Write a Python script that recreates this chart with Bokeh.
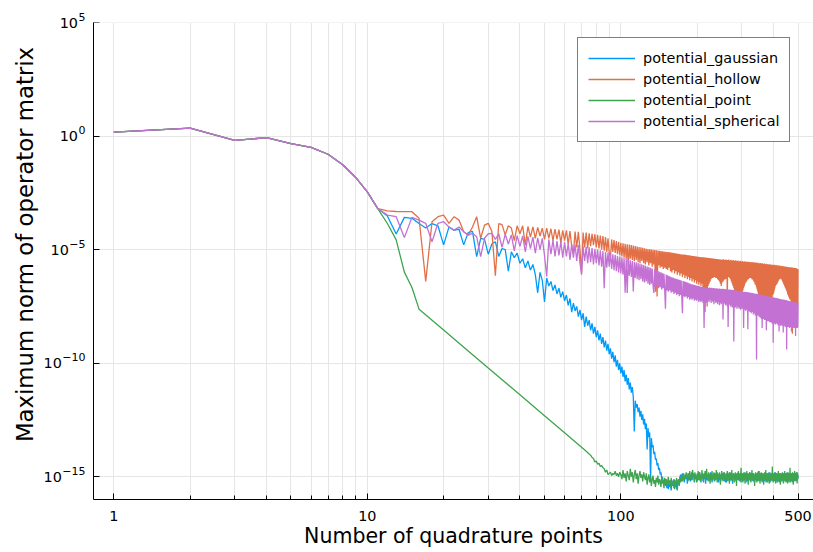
import numpy as np
from bokeh.plotting import figure
from bokeh.layouts import row
from bokeh.models import (Range1d, FixedTicker, CustomJSTickFormatter, Legend,
                          LegendItem, ColumnDataSource, BoxAnnotation)
from bokeh.core.properties import value
from bokeh.embed import file_html
from bokeh.resources import INLINE

# ---------------------------------------------------------------------------
# Data: log10 of the maximum operator-matrix norm versus number of quadrature
# points N.  All four potentials coincide for N = 1..11.
# ---------------------------------------------------------------------------
n_head = list(range(1, 12))
shared_head_log10 = [0.17, 0.35, -0.19, -0.07, -0.33, -0.50, -0.80, -1.26, -1.82, -2.46, -3.19]

# potential_gaussian, N = 12..500
gaussian_tail_log10 = [
    -3.52, -4.31, -3.58, -3.62, -3.85, -4.05, -3.85, -3.95, -4.79,                  # 12-20
    -4.00, -4.15, -4.10, -4.79, -4.25, -4.20, -5.31, -4.50, -4.55, -5.20,           # 21-30
    -4.75, -4.65, -5.30, -4.95, -5.00, -5.95, -5.10, -5.35, -5.15, -5.60,           # 31-40
    -5.40, -5.80, -5.50, -5.90, -5.65, -6.10, -6.90, -6.00, -6.35, -7.30,           # 41-50
    -6.25, -6.60, -6.40, -6.80, -6.55, -6.95, -6.70, -7.10, -6.85, -7.25,           # 51-60
    -7.00, -7.45, -7.15, -7.75, -7.35, -7.70, -7.50, -7.95, -7.65, -8.10,           # 61-70
    -7.80, -8.40, -7.95, -8.35, -8.10, -8.55, -8.25, -8.70, -8.40, -8.85,           # 71-80
    -8.55, -9.00, -8.70, -9.15, -8.85, -9.30, -9.00, -9.45, -9.15, -9.60,           # 81-90
    -9.35, -9.80, -9.50, -9.95, -9.65, -10.15, -9.85, -10.30, -10.00, -10.45,       # 91-100
    -10.15, -10.60, -10.30, -10.80, -10.50, -10.95, -10.65, -11.15, -10.85, -11.30, # 101-110
    -11.05, -11.50, -13.00, -11.65, -11.95, -11.80, -12.15, -11.95, -12.35, -12.10, # 111-120
    -12.50, -12.25, -12.70, -12.45, -12.90, -12.65, -13.80, -12.85, -13.25, -13.05, # 121-130
    -15.20, -13.30, -13.70, -13.60, -14.00, -13.90, -14.25, -14.20, -14.50, -14.40, # 131-140
    -14.70, -14.60, -14.90, -14.80, -15.10, -15.00, -15.20, -15.30, -15.10, -15.40, # 141-150
    -15.25, -15.50, -15.30, -15.55, -15.20, -15.45, -15.35, -15.60, -15.25, -15.40, # 151-160
    -15.15, -15.50, -15.30, -15.45, -15.20, -15.55, -15.25, -15.35, -15.10, -15.40, # 161-170
    -15.05, -14.90, -15.20, -15.00, -14.85, -15.15, -14.95, -15.25, -15.00, -14.90, # 171-180
    -15.10, -14.95, -15.30, -14.85, -15.05, -15.15, -14.90, -15.20, -15.00, -14.80,
    -15.15, -14.95, -15.05, -14.85, -15.25, -15.00, -14.90, -15.10, -14.95, -15.20,
    -14.90, -15.05, -14.80, -15.15, -15.00, -14.90, -15.25, -14.95, -15.05, -14.85,
    -15.20, -15.00, -14.90, -15.10, -14.95, -15.30, -14.85, -15.05, -15.15, -14.90,
    -15.05, -14.85, -15.20, -14.95, -15.00, -14.80, -15.15, -14.90, -15.25, -15.00,
    -14.95, -15.10, -14.85, -15.20, -15.00, -14.90, -15.15, -14.95, -15.05, -14.80,
    -15.10, -14.90, -15.25, -15.00, -14.85, -15.05, -14.95, -15.20, -14.90, -15.10,
    -14.85, -15.15, -14.95, -15.05, -14.80, -15.20, -15.00, -14.90, -15.10, -14.95,
    -15.25, -14.90, -15.05, -14.85, -15.15, -14.95, -15.00, -14.80, -15.20, -14.95,
    -15.05, -14.85, -15.15, -15.00, -14.90, -15.30, -14.95, -15.05, -14.85, -15.10,
    -14.90, -15.20, -15.00, -14.85, -15.10, -14.95, -15.15, -14.90, -15.05, -14.80,
    -15.15, -15.00, -14.90, -15.20, -14.95, -15.05, -14.85, -15.25, -15.00, -14.90,
    -15.10, -14.95, -15.20, -14.85, -15.05, -14.90, -15.15, -15.00, -14.80, -15.10,
    -14.95, -15.25, -14.90, -15.05, -14.85, -15.15, -15.00, -14.90, -15.20, -14.95,
    -15.05, -14.80, -15.10, -14.95, -15.20, -14.90, -15.00, -15.15, -14.85, -15.05,
    -14.90, -15.20, -15.00, -14.85, -15.10, -14.95, -15.25, -14.90, -15.05, -14.95,
    -15.15, -14.85, -15.00, -14.90, -15.20, -15.05, -14.80, -15.10, -14.95, -15.15,
    -14.75, -15.05, -14.90, -15.20, -15.00, -14.85, -15.15, -14.95, -15.05, -14.90,
    -15.25, -14.95, -15.05, -14.85, -15.15, -15.00, -14.90, -15.20, -14.95, -15.05,
    -14.85, -15.10, -14.95, -15.25, -14.90, -15.00, -15.15, -14.85, -15.05, -14.95,
    -15.20, -14.90, -15.05, -14.80, -15.15, -15.00, -14.95, -15.25, -14.90, -15.05,
    -14.85, -15.15, -15.00, -14.90, -15.20, -14.95, -15.05, -14.85, -15.10, -15.00,
    -14.90, -15.20, -14.95, -15.05, -14.80, -15.15, -15.00, -14.90, -15.25, -14.95,
    -15.05, -14.85, -15.10, -14.95, -15.20, -14.90, -15.00, -15.15, -14.85, -15.05,
    -14.95, -15.25, -14.90, -15.05, -15.00, -14.85, -15.15, -14.95, -15.10, -14.90,
    -15.20, -15.00, -14.85, -15.10, -14.95, -15.05, -14.90, -15.25, -15.00, -14.85,
    -15.15, -14.95, -15.05, -14.90, -15.20, -15.00, -14.85, -15.10, -14.95, -15.15,
    -14.90, -15.05, -14.80, -15.20, -15.00, -14.95, -15.15, -14.90, -15.05, -14.85,
    -15.25, -14.95, -15.05, -14.90, -15.10, -15.00, -14.85, -15.20, -14.95, -15.05,
    -14.90, -15.15, -15.00, -14.85, -15.10, -14.95, -15.25, -14.90, -15.05, -15.00,
    -14.85, -15.15, -14.95, -15.05, -14.90, -15.20, -15.00, -14.85, -15.10, -14.95,
    -15.05, -14.90, -15.20, -14.95, -15.00, -14.80, -15.15, -14.90, -15.05, -14.95, # 491-500
]

# potential_hollow, N = 12..500
hollow_tail_log10 = [
    -3.29, -3.32, -3.33, -3.33, -3.62, -6.40, -3.77, -3.55, -3.48,                  # 12-20
    -3.84, -3.55, -3.70, -4.21, -4.36, -4.00, -3.55, -4.50, -3.92, -3.84,           # 21-30
    -4.20, -6.15, -3.85, -3.90, -4.35, -3.95, -4.05, -4.60, -3.95, -4.30,           # 31-40
    -3.95, -4.80, -3.98, -4.45, -4.00, -4.50, -4.02, -4.40, -4.05, -4.55,           # 41-50
    -4.05, -4.50, -4.08, -4.60, -4.10, -4.55, -4.12, -4.70, -4.15, -4.60,           # 51-60
    -4.15, -4.75, -4.18, -4.85, -5.16, -4.20, -4.90, -4.22, -5.00, -6.05,           # 61-70
    -4.25, -4.90, -4.25, -4.95, -4.28, -4.85, -4.30, -4.80, -4.32, -4.90,           # 71-80
    -4.35, -4.95, -4.38, -5.00, -4.40, -5.05, -4.45, -5.10, -4.50, -5.15,           # 81-90
    -5.35, -4.55, -5.10, -4.58, -5.15, -4.62, -5.20, -4.65, -5.25, -4.70,           # 91-100
    -5.30, -4.72, -5.35, -4.74, -5.40, -4.76, -5.75, -4.78, -5.40, -4.80,           # 101-110
    -5.45, -4.82, -5.50, -4.84, -5.45, -4.86, -5.55, -4.88, -5.60, -4.90,           # 111-120
    -5.50, -4.92, -5.60, -4.94, -5.65, -4.96, -5.55, -4.97, -5.70, -4.98,           # 121-130
    -5.60, -5.00, -5.75, -5.01, -5.65, -5.02, -6.85, -5.03, -7.06, -5.04,           # 131-140
    -5.70, -5.05, -5.80, -5.06, -5.75, -5.07, -5.85, -5.08, -5.80, -5.09,           # 141-150
    -5.85, -5.10, -5.90, -5.11, -5.80, -5.12, -5.95, -5.13, -6.00, -5.14,           # 151-160
    -5.90, -5.15, -6.05, -5.16, -5.95, -5.17, -6.10, -5.18, -6.00, -5.19,           # 161-170
    -6.15, -5.20, -6.05, -5.21, -6.20, -5.22, -6.10, -5.22, -6.25, -5.23,           # 171-180
    -6.15, -5.24, -6.30, -5.25, -6.20, -5.25, -6.35, -5.26, -6.25, -5.27,           # 181-190
    -6.40, -5.28, -6.30, -5.28, -6.45, -5.29, -6.35, -5.30, -6.50, -5.30,           # 191-200
    -6.40, -5.31, -6.55, -5.32, -6.45, -5.32, -6.60, -5.33, -6.50, -5.34,           # 201-210
    -6.65, -5.34, -6.70, -5.35, -7.75, -5.35, -6.80, -5.36, -7.50, -5.36,           # 211-220
    -6.60, -5.37, -6.50, -5.37, -6.40, -5.38, -6.30, -5.38, -6.25, -5.39,           # 221-230
    -6.25, -5.39, -6.20, -5.40, -6.20, -5.40, -6.25, -5.41, -6.25, -5.41,           # 231-240
    -6.30, -5.42, -6.35, -5.42, -6.40, -5.43, -6.50, -5.43, -6.60, -5.44,           # 241-250
    -6.45, -5.44, -6.40, -5.42, -6.35, -5.46, -6.30, -5.45, -6.30, -5.43,           # 251-260
    -6.25, -5.47, -7.20, -5.46, -6.20, -5.44, -6.20, -5.48, -6.25, -5.47,           # 261-270
    -6.30, -5.45, -6.40, -5.49, -6.50, -5.48, -6.60, -5.46, -6.70, -5.50,           # 271-280
    -6.80, -5.49, -6.85, -5.47, -6.90, -5.51, -7.00, -5.50, -6.95, -5.48,           # 281-290
    -7.05, -5.52, -7.00, -5.51, -7.10, -5.49, -6.95, -5.53, -7.30, -5.52,           # 291-300
    -6.90, -5.50, -6.80, -5.54, -6.70, -5.53, -6.60, -5.51, -6.50, -5.55,           # 301-310
    -6.45, -5.54, -6.40, -5.52, -6.35, -5.56, -6.30, -5.55, -6.30, -5.53,           # 311-320
    -6.25, -5.57, -6.25, -5.56, -6.20, -5.54, -6.25, -5.58, -6.30, -5.57,           # 321-330
    -6.30, -5.55, -6.35, -5.59, -6.40, -5.58, -6.45, -5.56, -6.55, -5.60,           # 331-340
    -6.55, -5.59, -6.65, -5.57, -6.75, -5.61, -6.85, -5.60, -6.95, -5.58,           # 341-350
    -7.00, -5.62, -7.05, -5.61, -7.10, -5.59, -7.00, -5.63, -7.15, -5.62,           # 351-360
    -7.10, -5.60, -7.20, -5.64, -7.05, -5.63, -7.15, -5.61, -7.20, -5.65,           # 361-370
    -7.10, -5.64, -7.25, -5.62, -7.15, -5.66, -7.20, -5.65, -7.10, -5.63,           # 371-380
    -7.25, -5.67, -7.50, -5.66, -7.15, -5.64, -7.20, -5.68, -7.10, -5.67,           # 381-390
    -7.15, -5.65, -7.05, -5.69, -7.10, -5.68, -7.00, -5.66, -6.95, -5.70,           # 391-400
    -6.90, -5.69, -6.80, -5.67, -6.70, -5.71, -6.60, -5.70, -6.55, -5.68,           # 401-410
    -6.55, -5.72, -6.50, -5.71, -6.45, -5.69, -6.40, -5.73, -6.35, -5.72,           # 411-420
    -6.30, -5.70, -6.30, -5.74, -6.25, -5.73, -6.25, -5.71, -6.30, -5.75,           # 421-430
    -6.30, -5.74, -6.35, -5.72, -6.40, -5.76, -6.45, -5.75, -6.50, -5.73,           # 431-440
    -6.55, -5.77, -6.60, -5.76, -6.65, -5.74, -6.70, -5.78, -6.75, -5.77,           # 441-450
    -6.80, -5.75, -6.85, -5.79, -6.95, -5.78, -7.00, -5.76, -7.05, -5.80,           # 451-460
    -7.10, -5.79, -7.15, -5.77, -7.20, -5.81, -7.20, -5.80, -7.25, -5.78,           # 461-470
    -7.30, -5.82, -7.25, -5.81, -8.70, -5.79, -7.30, -5.83, -7.35, -5.82,           # 471-480
    -7.30, -5.80, -7.35, -5.84, -7.30, -5.83, -7.60, -5.81, -7.35, -5.85,           # 481-490
    -7.30, -5.84, -7.35, -5.82, -7.30, -5.86, -7.35, -5.85, -7.40, -5.88,           # 491-500
]

# potential_point: N = 12..16, the straight power-law stretch, then N = 75..500
point_tail_n = [12, 13, 14, 15, 16, 20, 25, 30, 40, 50, 60, 70, 74] + list(range(75, 501))
point_tail_log10 = [
    -3.85, -4.57, -5.99, -6.67, -7.62, -8.54, -9.46, -10.21, -11.39, -12.31, -13.06, -13.70, -13.93,
    -14.00, -14.05, -14.15, -14.20, -14.35, -14.30, -14.45, -14.40, -14.55, -14.50,  # 75-84
    -14.60, -14.65, -14.80, -14.70, -14.90, -14.85,                                  # 85-90
    -14.80, -14.95, -14.85, -14.90, -14.75, -14.95, -14.85, -15.00, -14.80, -14.90,  # 91-100
    -15.10, -14.70, -15.05, -14.85, -15.20, -14.75, -14.95, -15.15, -14.65, -15.00,
    -14.80, -15.25, -14.90, -14.70, -15.10, -14.85, -15.30, -14.95, -14.75, -15.05,
    -14.90, -15.20, -14.80, -15.00, -15.15, -14.85, -15.35, -15.05, -14.90, -15.25,
    -15.00, -15.40, -15.10, -14.95, -15.30, -15.15, -15.45, -15.05, -15.25, -14.95,
    -15.35, -15.10, -15.20, -15.45, -15.00, -15.30, -15.15, -15.50, -15.05, -15.25,
    -15.10, -15.40, -15.20, -15.00, -15.35, -15.15, -15.45, -15.05, -15.30, -15.20,
    -15.40, -15.10, -15.55, -15.15, -15.25, -15.05, -15.60, -15.20, -15.10, -15.35,
    -15.00, -15.25, -15.10, -14.90, -15.20, -15.05, -14.85, -15.15, -14.95, -15.10,
    -14.80, -15.05, -14.95, -15.20, -14.85, -15.00, -14.75, -15.10, -14.90, -15.15,
    -14.85, -14.70, -15.05, -14.90, -15.20, -14.80, -15.00, -14.95, -15.25, -14.85,
    -15.05, -14.75, -15.15, -14.90, -14.80, -15.20, -14.95, -15.05, -14.70, -15.10,
    -14.90, -15.25, -14.85, -15.00, -14.75, -15.15, -14.95, -14.65, -15.05, -14.90,
    -15.20, -14.80, -15.00, -14.90, -15.30, -14.85, -15.10, -14.95, -14.75, -15.15,
    -14.90, -15.05, -14.80, -15.20, -14.95, -14.85, -15.10, -14.70, -15.00, -15.25,
    -14.85, -15.05, -14.90, -15.15, -14.80, -15.00, -15.35, -14.90, -15.10, -14.75,
    -15.00, -14.85, -15.20, -14.95, -15.05, -14.80, -15.15, -14.90, -15.25, -14.85,
    -15.10, -14.95, -14.75, -15.20, -14.90, -15.05, -14.85, -15.30, -15.00, -14.80,
    -15.15, -14.90, -15.05, -14.70, -15.20, -14.95, -15.10, -14.85, -15.00, -15.25,
    -14.90, -15.05, -14.80, -15.15, -14.95, -15.40, -14.85, -15.10, -14.90, -15.00,
    -14.75, -15.15, -14.95, -15.05, -14.85, -15.20, -14.90, -14.60, -15.10, -14.95,
    -15.05, -14.85, -15.25, -14.90, -15.00, -14.80, -15.15, -14.95, -15.30, -14.85,
    -15.10, -14.90, -15.05, -14.75, -15.20, -14.95, -15.00, -15.35, -14.85, -15.10,
    -14.90, -15.15, -14.80, -15.05, -14.95, -15.25, -14.85, -15.00, -14.70, -15.15,
    -14.95, -15.10, -14.85, -15.20, -15.00, -14.90, -15.40, -14.95, -15.05, -14.80,
    -15.15, -14.90, -15.00, -15.25, -14.85, -15.10, -14.95, -15.05, -14.75, -15.20,
    -14.90, -15.05, -14.85, -15.30, -15.00, -14.90, -15.15, -14.80, -15.05, -14.95,
    -15.20, -14.85, -15.10, -14.95, -15.00, -15.35, -14.90, -15.05, -14.80, -15.15,
    -14.95, -15.05, -14.70, -15.20, -14.90, -15.10, -14.85, -15.00, -15.25, -14.95,
    -15.05, -14.85, -15.15, -14.90, -15.30, -15.00, -14.80, -15.10, -14.95, -15.20,
    -14.90, -15.05, -14.85, -15.15, -14.95, -14.55, -15.10, -14.90, -15.25, -15.00,
    -14.85, -15.10, -14.95, -15.20, -14.90, -15.05, -14.80, -15.30, -15.00, -14.90,
    -15.15, -14.85, -15.05, -14.95, -15.25, -14.90, -15.10, -14.75, -15.00, -15.20,
    -14.95, -15.05, -14.85, -15.15, -14.90, -15.35, -15.00, -14.85, -15.10, -14.95,
    -15.20, -14.90, -15.05, -14.80, -15.15, -14.95, -15.00, -15.30, -14.85, -15.10,
    -14.95, -15.05, -14.75, -15.20, -14.90, -15.10, -14.85, -15.00, -15.25, -14.95,
    -15.05, -14.85, -15.15, -14.90, -15.30, -15.00, -14.80, -15.10, -14.95, -15.20,
    -14.90, -15.05, -14.85, -15.15, -14.60, -15.10, -14.90, -15.25, -15.00, -14.85,
    -15.10, -14.95, -15.20, -14.90, -15.05, -14.80, -15.15, -14.95, -15.35, -15.00,
    -14.85, -15.10, -14.95, -15.05, -14.75, -15.20, -14.90, -15.10, -14.85, -15.15,
    -14.95, -15.00, -14.80, -15.20, -14.90, -15.30, -15.00, -14.85, -15.10, -14.95,  # 491-500
]

# potential_spherical, N = 12..500
spherical_tail_log10 = [
    -3.48, -3.55, -4.47, -3.58, -3.70, -3.84, -4.65, -3.84, -3.77,                  # 12-20
    -4.00, -4.14, -4.00, -4.21, -4.36, -4.28, -4.43, -5.31, -4.50, -4.30,           # 21-30
    -4.28, -4.55, -4.30, -4.90, -4.32, -4.75, -4.35, -5.05, -4.38, -4.85,           # 31-40
    -4.40, -5.10, -4.42, -4.95, -4.45, -5.15, -4.48, -5.00, -4.50, -5.25,           # 41-50
    -6.18, -4.55, -5.20, -4.58, -5.30, -4.62, -5.25, -4.65, -5.35, -4.68,           # 51-60
    -5.30, -4.72, -5.45, -4.75, -5.35, -4.78, -5.50, -4.80, -5.60, -6.10,           # 61-70
    -4.85, -5.50, -4.88, -5.60, -4.90, -5.55, -4.93, -5.65, -4.96, -5.60,           # 71-80
    -5.00, -5.70, -5.03, -5.75, -5.06, -6.70, -5.10, -5.80, -5.13, -5.75,           # 81-90
    -5.16, -5.85, -5.20, -5.90, -5.23, -5.95, -5.27, -6.00, -5.30, -6.05,           # 91-100
    -5.34, -6.10, -5.37, -6.90, -5.40, -6.91, -5.44, -6.15, -5.47, -6.20,           # 101-110
    -5.50, -6.84, -5.53, -6.25, -5.56, -6.30, -5.59, -6.35, -5.62, -6.30,           # 111-120
    -5.65, -6.40, -5.68, -6.45, -5.71, -6.40, -5.74, -6.50, -5.77, -6.55,           # 121-130
    -5.80, -6.50, -5.83, -6.60, -6.91, -5.88, -6.65, -5.91, -6.60, -5.94,           # 131-140
    -6.70, -5.97, -6.65, -6.00, -6.75, -6.03, -6.70, -6.06, -6.80, -7.60,           # 141-150
    -6.10, -6.80, -6.13, -6.85, -6.16, -6.80, -6.19, -6.90, -6.22, -6.85,           # 151-160
    -6.24, -6.95, -6.26, -6.90, -6.28, -7.00, -6.30, -6.95, -6.32, -7.05,           # 161-170
    -6.34, -7.00, -6.36, -7.10, -7.80, -6.38, -7.05, -6.40, -7.10, -6.42,           # 171-180
    -7.05, -6.44, -7.15, -6.46, -7.10, -6.48, -7.20, -6.50, -7.15, -6.52,           # 181-190
    -7.20, -6.54, -7.15, -6.55, -7.25, -6.56, -7.20, -6.58, -7.25, -6.59,           # 191-200
    -7.20, -6.60, -7.30, -6.61, -7.25, -6.62, -7.30, -6.63, -7.25, -6.64,           # 201-210
    -7.35, -6.65, -8.45, -6.66, -7.30, -6.67, -7.35, -6.68, -7.30, -6.69,           # 211-220
    -7.25, -6.68, -7.30, -6.67, -7.20, -6.69, -7.35, -6.68, -7.25, -6.70,           # 221-230
    -7.30, -6.69, -7.40, -6.70, -7.25, -6.71, -7.35, -6.70, -7.30, -6.71,           # 231-240
    -7.40, -6.72, -7.30, -6.71, -7.45, -6.72, -7.35, -6.73, -7.40, -6.72,           # 241-250
    -7.30, -6.73, -8.08, -6.72, -7.40, -6.74, -7.35, -6.73, -7.45, -6.75,           # 251-260
    -7.40, -6.74, -7.50, -6.76, -8.40, -6.75, -7.45, -6.77, -7.40, -6.76,           # 261-270
    -7.50, -6.78, -7.45, -6.77, -7.55, -6.79, -7.45, -6.78, -9.04, -6.80,           # 271-280
    -7.50, -6.79, -7.55, -6.81, -7.45, -6.80, -7.60, -6.82, -7.50, -6.81,           # 281-290
    -7.55, -6.83, -7.60, -6.82, -7.50, -6.84, -7.65, -6.83, -7.55, -6.85,           # 291-300
    -7.60, -6.84, -7.55, -6.86, -8.45, -6.85, -7.65, -6.87, -7.60, -6.86,           # 301-310
    -7.70, -6.88, -7.60, -6.87, -7.65, -6.89, -8.50, -6.88, -7.70, -6.90,           # 311-320
    -7.65, -6.89, -7.75, -6.91, -7.70, -6.90, -7.80, -6.92, -7.70, -6.91,           # 321-330
    -7.75, -6.93, -7.85, -6.92, -7.75, -6.94, -7.80, -6.93, -7.90, -6.95,           # 331-340
    -7.80, -6.95, -9.84, -6.94, -7.85, -6.96, -7.90, -6.95, -7.85, -6.97,           # 341-350
    -7.95, -6.98, -7.90, -6.97, -8.00, -6.99, -7.90, -7.00, -8.05, -6.99,           # 351-360
    -8.45, -7.01, -7.95, -7.02, -8.05, -7.01, -8.00, -7.03, -8.10, -7.02,           # 361-370
    -8.00, -7.04, -8.10, -7.03, -8.55, -7.05, -8.05, -7.06, -8.15, -7.05,           # 371-380
    -8.05, -7.07, -8.15, -7.06, -8.10, -7.08, -8.20, -7.07, -8.10, -7.09,           # 381-390
    -8.20, -7.10, -8.15, -7.09, -8.25, -7.11, -8.15, -7.10, -9.10, -7.12,           # 391-400
    -8.20, -7.11, -8.25, -7.13, -8.15, -7.12, -8.30, -7.14, -8.20, -7.13,           # 401-410
    -8.25, -7.15, -8.20, -7.14, -8.30, -7.16, -8.25, -7.15, -8.35, -7.17,           # 411-420
    -8.60, -7.16, -8.25, -7.18, -8.30, -7.17, -8.35, -7.19, -8.25, -7.18,           # 421-430
    -8.30, -7.20, -8.35, -7.19, -8.25, -7.21, -8.65, -7.20, -8.30, -7.22,           # 431-440
    -8.35, -7.21, -8.30, -7.23, -8.40, -7.22, -8.30, -7.24, -8.35, -7.23,           # 441-450
    -9.40, -7.25, -8.35, -7.24, -8.40, -7.26, -8.30, -7.25, -8.40, -7.27,           # 451-460
    -8.35, -7.26, -8.45, -7.28, -8.35, -7.27, -8.40, -7.29, -8.35, -7.28,           # 461-470
    -8.60, -7.30, -8.40, -7.29, -8.45, -7.31, -8.35, -7.30, -8.40, -7.32,           # 471-480
    -8.45, -7.31, -8.40, -7.33, -8.35, -7.32, -8.45, -7.34, -8.80, -7.33,           # 481-490
    -8.40, -7.35, -8.45, -7.34, -8.40, -7.36, -8.45, -7.35, -8.40, -7.36,           # 491-500
]

tail_n = list(range(12, 501))
for name, vals, ns in [("gaussian", gaussian_tail_log10, tail_n),
                       ("hollow", hollow_tail_log10, tail_n),
                       ("spherical", spherical_tail_log10, tail_n),
                       ("point", point_tail_log10, point_tail_n)]:
    assert len(vals) == len(ns), f"{name}: {len(vals)} values for {len(ns)} points"

series = [
    ("potential_gaussian", "#009AFA", n_head + tail_n, shared_head_log10 + gaussian_tail_log10),
    ("potential_hollow", "#E36F47", n_head + tail_n, shared_head_log10 + hollow_tail_log10),
    ("potential_point", "#3EA44E", n_head + point_tail_n, shared_head_log10 + point_tail_log10),
    ("potential_spherical", "#C371D2", n_head + tail_n, shared_head_log10 + spherical_tail_log10),
]

x_major = [1, 10, 100, 500]
x_minor = [2, 3, 4, 5, 6, 7, 8, 9, 20, 30, 40, 50, 60, 70, 80, 90, 200, 300, 400]
y_exponents = [-15, -10, -5, 0, 5]
y_title = "Maximum norm of operator matrix"
x_title = "Number of quadrature points"

FONT = "DejaVu Sans"
TICK_PX = 14.4
EXP_PX = 11.0
H = 552
GUTTER_W = 91          # strip holding the y tick texts and y title
PLOT_W = 722
TOP_PAD, FRAME_BOTTOM = 22, 53
Y_LO, Y_HI = -16.0, 5.0
px_per_decade = (H - TOP_PAD - FRAME_BOTTOM) / (Y_HI - Y_LO)
# the frame runs to the top edge of the canvas; the axes stop at 1e5
y_top = Y_HI + TOP_PAD / px_per_decade
y_range = Range1d(10 ** Y_LO, 10 ** y_top)

# ---- main plot -------------------------------------------------------------
p = figure(width=PLOT_W, height=H, x_axis_type="log", y_axis_type="log",
           x_range=Range1d(10 ** -0.08, 10 ** 2.76), y_range=y_range,
           output_backend="svg", toolbar_location=None,
           min_border_left=2, min_border_right=0, min_border_top=0,
           min_border_bottom=FRAME_BOTTOM, x_axis_label=x_title)
p.outline_line_color = None
p.background_fill_color = "white"
p.border_fill_color = "white"

p.xaxis.ticker = FixedTicker(ticks=x_major, minor_ticks=x_minor)
p.yaxis.ticker = FixedTicker(ticks=[10.0 ** e for e in y_exponents], minor_ticks=[])
p.yaxis.bounds = (10 ** Y_LO, 10 ** Y_HI)
p.xaxis.formatter = CustomJSTickFormatter(code="return String(Math.round(tick));")
p.yaxis.formatter = CustomJSTickFormatter(code="return '';")

for ax in (p.xaxis, p.yaxis):
    ax.axis_line_color = "black"
    ax.axis_line_width = 1
    ax.major_tick_in = 6
    ax.major_tick_out = 0
    ax.minor_tick_in = 4
    ax.minor_tick_out = 0
    ax.major_tick_line_color = "black"
    ax.minor_tick_line_color = "black"
    ax.major_label_text_font = FONT
    ax.major_label_text_font_size = f"{TICK_PX}px"
    ax.major_label_text_color = "black"
    ax.axis_label_text_font = FONT
    ax.axis_label_text_font_size = "20.5px"
    ax.axis_label_text_font_style = "normal"
    ax.axis_label_text_color = "black"
p.xaxis.major_label_standoff = 11
p.xaxis.axis_label_standoff = 0
p.yaxis.major_label_standoff = 0
p.yaxis.major_label_text_font_size = "0px"

p.xgrid.grid_line_color = "#e6e6e6"
p.xgrid.minor_grid_line_color = "#e6e6e6"
p.ygrid.grid_line_color = "#e6e6e6"
p.ygrid.minor_grid_line_color = None

items = []
for label, color, ns, logs in series:
    r = p.line(ns, 10.0 ** np.array(logs), line_color=color, line_width=1.3)
    items.append(LegendItem(label=label, renderers=[r]))

# blank band above 1e5 so that the grid stops at the top of the axes
p.add_layout(BoxAnnotation(bottom=10 ** Y_HI, fill_color="white", fill_alpha=1.0,
                           line_alpha=0.0))

legend = Legend(items=items, location=(484, 357))
legend.border_line_color = "black"
legend.border_line_width = 1
legend.background_fill_color = "white"
legend.background_fill_alpha = 1.0
legend.padding = 10
legend.spacing = 1
legend.margin = 0
legend.glyph_width = 47
legend.glyph_height = 20
legend.label_height = 20
legend.label_standoff = 8
legend.label_text_font = FONT
legend.label_text_font_size = f"{TICK_PX}px"
legend.label_text_color = "black"
p.add_layout(legend, "center")

# ---- left strip: y tick texts ("10" + raised exponent) and the y title ------
g = figure(width=GUTTER_W, height=H, x_range=Range1d(0, GUTTER_W),
           y_range=y_range, y_axis_type="log",
           output_backend="svg", toolbar_location=None,
           x_axis_location=None, y_axis_location=None,
           min_border_left=0, min_border_right=0, min_border_top=0,
           min_border_bottom=FRAME_BOTTOM)
g.outline_line_color = None
g.grid.visible = False
g.background_fill_color = "white"
g.border_fill_color = "white"

label_right = GUTTER_W + 2 - 8
digit_w = 0.636 * EXP_PX
minus_w = 0.838 * EXP_PX
exp_texts = [str(e).replace("-", "\u2212") for e in y_exponents]
exp_widths = [sum(minus_w if c == "\u2212" else digit_w for c in t) for t in exp_texts]
tick_vals = [10.0 ** e for e in y_exponents]

base_src = ColumnDataSource(dict(x=[label_right - w - 0.5 for w in exp_widths],
                                 y=tick_vals, text=["10"] * len(y_exponents)))
exp_src = ColumnDataSource(dict(x=[label_right] * len(y_exponents), y=tick_vals,
                                text=exp_texts))
g.text(x="x", y="y", text="text", source=base_src, text_align="right",
       text_baseline="middle", text_font=value(FONT), text_font_size=value(f"{TICK_PX}px"),
       text_color="black")
g.text(x="x", y="y", text="text", source=exp_src, text_align="right",
       text_baseline="middle", y_offset=-6, text_font=value(FONT),
       text_font_size=value(f"{EXP_PX}px"), text_color="black")

# y title, centred a little above the middle of the axes
title_src = ColumnDataSource(dict(x=[24], y=[10 ** (Y_HI - (244 - TOP_PAD) / px_per_decade)],
                                  text=[y_title]))
g.text(x="x", y="y", text="text", source=title_src, angle=np.pi / 2,
       text_align="center", text_baseline="middle", text_font=value(FONT),
       text_font_size=value("22.8px"), text_color="black")

layout = row(g, p, spacing=0)
open("out.html", "w").write(file_html(layout, INLINE))
